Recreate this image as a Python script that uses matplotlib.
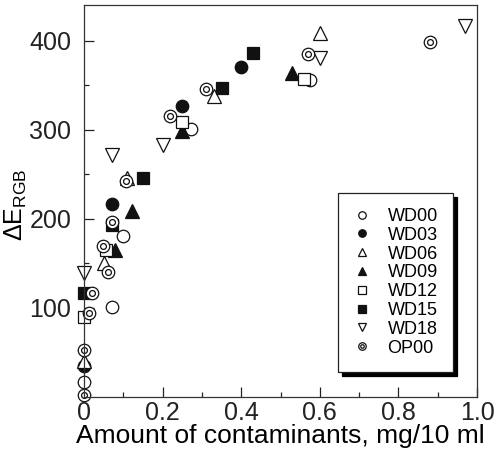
import matplotlib
matplotlib.use("Agg")
import matplotlib.pyplot as plt
from matplotlib.legend_handler import HandlerTuple

plt.rcParams["font.family"] = ["Liberation Sans", "DejaVu Sans"]
plt.rcParams["mathtext.fontset"] = "custom"
plt.rcParams["mathtext.rm"] = "Liberation Sans"

# data
wd00_x = [0, 0.07, 0.10, 0.273, 0.575]
wd00_y = [17, 101, 181, 301, 356]
wd03_x = [0, 0.072, 0.25, 0.40]
wd03_y = [35, 217, 327, 371]
wd06_x = [0, 0.05, 0.11, 0.33, 0.60]
wd06_y = [41, 150, 246, 338, 409]
wd09_x = [0.08, 0.123, 0.25, 0.53]
wd09_y = [165, 209, 299, 364]
wd12_x = [0, 0.055, 0.25, 0.56]
wd12_y = [90, 165, 309, 357]
wd15_x = [0, 0.07, 0.15, 0.35, 0.43]
wd15_y = [117, 193, 246, 347, 386]
wd18_x = [0, 0.07, 0.20, 0.60, 0.97]
wd18_y = [139, 272, 283, 381, 416]
op00_x = [0, 0, 0.013, 0.02, 0.06, 0.048, 0.07, 0.108, 0.22, 0.31, 0.57, 0.88]
op00_y = [2, 53, 94, 117, 140, 170, 196, 242, 315, 346, 385, 398]

fig = plt.figure(figsize=(4.97, 4.59), dpi=100)
ax = fig.add_axes([0.169, 0.135, 0.791, 0.854])

ms = 9
mew = 0.9
ec = "#111111"
kw = dict(linestyle="none", markeredgewidth=mew, markeredgecolor=ec, clip_on=False)

h00, = ax.plot(wd00_x, wd00_y, marker="o", markersize=ms, markerfacecolor="white", **kw)
h03, = ax.plot(wd03_x, wd03_y, marker="o", markersize=ms, markerfacecolor=ec, **kw)
h06, = ax.plot(wd06_x, wd06_y, marker="^", markersize=ms + 1, markerfacecolor="white", **kw)
h09, = ax.plot(wd09_x, wd09_y, marker="^", markersize=ms + 1, markerfacecolor=ec, **kw)
h12, = ax.plot(wd12_x, wd12_y, marker="s", markersize=ms, markerfacecolor="white", **kw)
h15, = ax.plot(wd15_x, wd15_y, marker="s", markersize=ms, markerfacecolor=ec, **kw)
h18, = ax.plot(wd18_x, wd18_y, marker="v", markersize=ms + 1, markerfacecolor="white", **kw)
hop_a, = ax.plot(op00_x, op00_y, marker="o", markersize=ms, markerfacecolor="white", **kw)
hop_b, = ax.plot(op00_x, op00_y, marker="o", markersize=4.2,
                 markerfacecolor="white", **kw)

ax.set_xlim(0, 1.0)
ax.set_ylim(0, 440)
ax.set_xticks([0, 0.2, 0.4, 0.6, 0.8, 1.0])
ax.set_xticklabels(["0", "0.2", "0.4", "0.6", "0.8", "1.0"])
ax.set_xticks([0.1, 0.3, 0.5, 0.7, 0.9], minor=True)
ax.set_yticks([100, 200, 300, 400])
ax.set_yticks([50, 150, 250, 350], minor=True)
ax.tick_params(which="both", direction="in", labelsize=18, colors="#222222",
               width=0.9)
ax.tick_params(which="major", length=7)
ax.tick_params(which="minor", length=3.5)
ax.tick_params(axis="y", pad=9)
ax.tick_params(axis="x", pad=3)
for s in ax.spines.values():
    s.set_linewidth(0.9)
    s.set_color("#333333")

ax.set_xlabel("Amount of contaminants, mg/10 ml", fontsize=19, labelpad=-1)
ax.set_ylabel(r"ΔE$_{\mathrm{RGB}}$", fontsize=18)
ax.yaxis.set_label_coords(-0.14, 0.49)

leg = ax.legend(
    [h00, h03, h06, h09, h12, h15, h18, (hop_a, hop_b)],
    ["WD00", "WD03", "WD06", "WD09", "WD12", "WD15", "WD18", "OP00"],
    handler_map={tuple: HandlerTuple(ndivide=1, pad=0)},
    loc="lower right", bbox_to_anchor=(0.939, 0.064), borderaxespad=0,
    fontsize=13, markerscale=0.6, handlelength=1.0, handletextpad=0.9,
    labelspacing=0.1, borderpad=0.85, fancybox=False, framealpha=1,
    edgecolor="#222222",
    shadow={"color": "black", "alpha": 1, "ox": 3, "oy": -3},
)
leg.get_frame().set_linewidth(0.9)

fig.savefig("out.png", dpi=100)
